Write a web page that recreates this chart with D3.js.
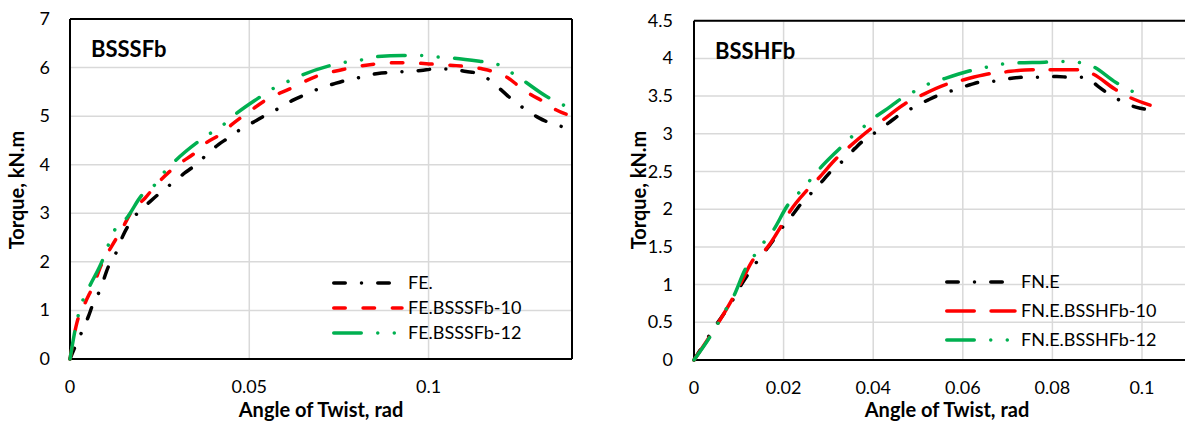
<!DOCTYPE html>
<html lang="en">
<head>
<meta charset="UTF-8">
<script src="https://d3js.org/d3.v7.min.js"></script>
<style>
  body { margin: 0; background: #fff; }
  svg { font-family: Lato, "Open Sans", sans-serif; }
  .grid line { stroke: #d9d9d9; stroke-width: 1.5; }
  .tick-label { font-size: 18px; fill: #000; }
  .axis-title { font-size: 20px; font-weight: 700; fill: #000; }
  .panel-title { font-size: 22px; font-weight: 700; fill: #000; }
  .legend-label { font-size: 18px; fill: #000; }
</style>
</head>
<body>
<div id="chart"></div>
<script>
// Left panel: BSSSFb  (angle of twist [rad], torque [kN.m])
const leftFE = [[0,0],[0.0014,0.25],[0.0033,0.56],[0.0051,0.87],[0.0065,1.15],[0.0082,1.39],[0.0107,1.9],[0.013,2.21],[0.0149,2.56],[0.0167,2.8],[0.019,3.02],[0.0223,3.24],[0.0251,3.42],[0.0283,3.61],[0.032,3.83],[0.0344,3.96],[0.0379,4.19],[0.0413,4.41],[0.0441,4.55],[0.0478,4.74],[0.052,4.91],[0.0543,5.01],[0.0585,5.17],[0.0622,5.33],[0.0655,5.44],[0.0696,5.57],[0.0738,5.67],[0.0771,5.74],[0.0817,5.81],[0.0859,5.88],[0.0896,5.9],[0.0938,5.92],[0.0979,5.94],[0.1017,5.97],[0.1058,5.97],[0.1105,5.92],[0.1137,5.88],[0.1175,5.72],[0.1207,5.51],[0.1235,5.33],[0.1272,5.13],[0.1309,4.96],[0.1342,4.85],[0.1384,4.76],[0.14,4.72]];
const leftFE10 = [[0,0],[0.0019,0.74],[0.0042,1.15],[0.007,1.6],[0.0084,1.88],[0.0116,2.32],[0.0144,2.66],[0.0172,3.04],[0.0209,3.31],[0.0241,3.59],[0.0292,3.95],[0.0353,4.27],[0.038,4.45],[0.0418,4.62],[0.045,4.82],[0.0501,5.1],[0.0548,5.34],[0.0613,5.56],[0.0687,5.82],[0.0761,5.96],[0.0836,6.06],[0.0919,6.1],[0.0994,6.08],[0.1031,6.06],[0.1077,6.04],[0.1151,5.97],[0.1188,5.9],[0.1221,5.79],[0.1253,5.61],[0.1286,5.44],[0.1318,5.31],[0.1355,5.13],[0.14,5.0]];
const leftFE12 = [[0,0],[0.0023,0.9],[0.0037,1.23],[0.0056,1.52],[0.0091,2.04],[0.0107,2.35],[0.0125,2.66],[0.0158,2.9],[0.02,3.37],[0.0237,3.59],[0.0262,3.84],[0.0292,4.07],[0.0353,4.45],[0.039,4.64],[0.0427,4.82],[0.046,5.03],[0.0525,5.37],[0.0562,5.55],[0.0604,5.7],[0.0645,5.84],[0.072,6.03],[0.0761,6.1],[0.0808,6.15],[0.085,6.22],[0.0928,6.25],[0.0975,6.25],[0.1021,6.22],[0.1063,6.2],[0.1142,6.13],[0.1187,6.08],[0.1226,5.92],[0.1263,5.74],[0.1328,5.41],[0.1367,5.26],[0.14,5.15]];

// Right panel: BSSHFb
const rightFE = [[0,0],[0.005,0.47],[0.008,0.73],[0.011,1.04],[0.014,1.3],[0.0166,1.5],[0.0199,1.77],[0.0222,1.94],[0.024,2.08],[0.0263,2.22],[0.0289,2.39],[0.0307,2.51],[0.0332,2.64],[0.036,2.81],[0.0378,2.91],[0.0408,3.03],[0.0438,3.16],[0.0456,3.24],[0.049,3.35],[0.0523,3.45],[0.0545,3.51],[0.058,3.58],[0.0616,3.65],[0.0642,3.69],[0.0676,3.7],[0.0713,3.74],[0.0739,3.75],[0.0775,3.75],[0.081,3.76],[0.084,3.75],[0.0873,3.75],[0.0902,3.63],[0.0925,3.53],[0.0955,3.43],[0.0988,3.35],[0.1018,3.32]];
const rightFE10 = [[0,0],[0.0054,0.49],[0.008,0.75],[0.0106,1.04],[0.0132,1.33],[0.0162,1.48],[0.0196,1.79],[0.0214,1.97],[0.0252,2.25],[0.0278,2.41],[0.0319,2.68],[0.0345,2.82],[0.0393,3.06],[0.0421,3.18],[0.0471,3.4],[0.0504,3.5],[0.056,3.65],[0.0598,3.71],[0.0653,3.79],[0.0694,3.82],[0.0754,3.85],[0.0791,3.85],[0.0854,3.85],[0.0888,3.8],[0.094,3.59],[0.097,3.49],[0.1018,3.38]];
const rightFE12 = [[0,0],[0.0036,0.31],[0.0054,0.49],[0.0073,0.69],[0.0088,0.84],[0.0114,1.2],[0.0134,1.38],[0.0156,1.56],[0.0177,1.72],[0.021,2.06],[0.0233,2.21],[0.0257,2.37],[0.0278,2.52],[0.0326,2.81],[0.035,2.95],[0.0378,3.09],[0.0404,3.22],[0.0438,3.36],[0.0456,3.44],[0.0488,3.55],[0.0519,3.65],[0.0553,3.72],[0.0612,3.83],[0.065,3.88],[0.0683,3.92],[0.072,3.94],[0.0783,3.95],[0.0819,3.96],[0.0854,3.95],[0.0888,3.9],[0.0942,3.68],[0.0972,3.58],[0.1007,3.5]];

const leftNames = ["FE.", "FE.BSSSFb-10", "FE.BSSSFb-12"];
const rightNames = ["FN.E", "FN.E.BSSHFb-10", "FN.E.BSSHFb-12"];
const leftXTicks = [0, 0.05, 0.1];
const leftYTicks = [0, 1, 2, 3, 4, 5, 6, 7];
const rightXTicks = [0, 0.02, 0.04, 0.06, 0.08, 0.1];
const rightYTicks = [0, 0.5, 1, 1.5, 2, 2.5, 3, 3.5, 4, 4.5];

const width = 1185, height = 423;
const colors = ["#000000", "#ff0000", "#00b050"];
const dashBlack = "11.5 16.25 0.01 16.25";
const dashGreen = "27.5 16.5 0.01 16.5 0.01 16.5";

const svg = d3.select("#chart").append("svg")
    .attr("width", width)
    .attr("height", height);

function drawPanel(cfg) {
    const x = d3.scaleLinear().domain(cfg.xDomain).range(cfg.xRange);
    const y = d3.scaleLinear().domain(cfg.yDomain).range(cfg.yRange);
    const [x0, x1] = cfg.xRange;
    const [y0, y1] = cfg.yRange;
    const g = svg.append("g");

    // gridlines
    const grid = g.append("g").attr("class", "grid");
    grid.selectAll(".hg").data(cfg.yTicks.filter(d => d > 0))
        .join("line")
        .attr("x1", x0).attr("x2", x1)
        .attr("y1", d => y(d)).attr("y2", d => y(d));
    grid.selectAll(".vg").data(cfg.xTicks.filter(d => d > 0))
        .join("line")
        .attr("x1", d => x(d)).attr("x2", d => x(d))
        .attr("y1", y0).attr("y2", y1);

    // frame
    const frame = g.append("g").attr("stroke", "#000").attr("stroke-width", 2).attr("fill", "none");
    frame.append("line").attr("x1", x0).attr("x2", x1).attr("y1", y0).attr("y2", y0);
    frame.append("line").attr("x1", x0).attr("x2", x0).attr("y1", y0).attr("y2", y1);
    frame.append("line").attr("x1", x0).attr("x2", x1).attr("y1", y1).attr("y2", y1);
    if (cfg.rightBorder) {
        frame.append("line").attr("x1", x1).attr("x2", x1).attr("y1", y0).attr("y2", y1);
    }

    // tick labels
    g.selectAll(".xl").data(cfg.xTicks).join("text")
        .attr("class", "tick-label")
        .attr("x", d => x(d)).attr("y", y0 + 34)
        .attr("text-anchor", "middle")
        .text(d => d3.format("~g")(d));
    g.selectAll(".yl").data(cfg.yTicks).join("text")
        .attr("class", "tick-label")
        .attr("x", x0 - cfg.yLabelGap).attr("y", d => y(d) + 6)
        .attr("text-anchor", "end")
        .text(d => d3.format("~g")(d));

    // axis titles
    g.append("text").attr("class", "axis-title")
        .attr("x", cfg.xTitleX).attr("y", 417)
        .attr("text-anchor", "middle")
        .text("Angle of Twist, rad");
    g.append("text").attr("class", "axis-title")
        .attr("transform", `translate(${cfg.yTitleX},190) rotate(-90)`)
        .attr("text-anchor", "middle")
        .text("Torque, kN.m");

    // panel title
    g.append("text").attr("class", "panel-title")
        .attr("x", x0 + 21).attr("y", y1 + 38)
        .text(cfg.title);

    // series
    const line = d3.line().x(d => x(d[0])).y(d => y(d[1])).curve(d3.curveMonotoneX);
    cfg.series.forEach((s, i) => {
        g.append("path")
            .datum(s)
            .attr("d", line)
            .attr("fill", "none")
            .attr("stroke", colors[i])
            .attr("stroke-width", 3.5)
            .attr("stroke-linecap", "round")
            .attr("stroke-dasharray", cfg.dashes[i]);
    });

    // legend
    const lg = g.append("g").attr("transform", `translate(${cfg.legendX},${cfg.legendY})`);
    cfg.names.forEach((n, i) => {
        const row = lg.append("g").attr("transform", `translate(0,${i * cfg.legendStep})`);
        row.append("line")
            .attr("x1", 1.75).attr("x2", 70)
            .attr("stroke", colors[i])
            .attr("stroke-width", 3.5)
            .attr("stroke-linecap", "round")
            .attr("stroke-dasharray", cfg.dashes[i]);
        row.append("text").attr("class", "legend-label")
            .attr("x", 76).attr("y", 6)
            .text(n);
    });
}

drawPanel({
    title: "BSSSFb",
    series: [leftFE, leftFE10, leftFE12],
    names: leftNames,
    xDomain: [0, 0.14], xRange: [70, 572],
    yDomain: [0, 7], yRange: [359, 19],
    xTicks: leftXTicks, yTicks: leftYTicks,
    yLabelGap: 20,
    rightBorder: true,
    xTitleX: 321, yTitleX: 24,
    dashes: [dashBlack, "11.5 17.8", dashGreen],
    legendX: 332, legendY: 283, legendStep: 25
});

drawPanel({
    title: "BSSHFb",
    series: [rightFE, rightFE10, rightFE12],
    names: rightNames,
    xDomain: [0, 0.11], xRange: [694, 1186.8],
    yDomain: [0, 4.5], yRange: [360, 20.7],
    xTicks: rightXTicks, yTicks: rightYTicks,
    yLabelGap: 21,
    rightBorder: false,
    xTitleX: 947, yTitleX: 646,
    dashes: [dashBlack, "27.5 16.8", dashGreen],
    legendX: 945, legendY: 282, legendStep: 29
});
</script>
</body>
</html>
